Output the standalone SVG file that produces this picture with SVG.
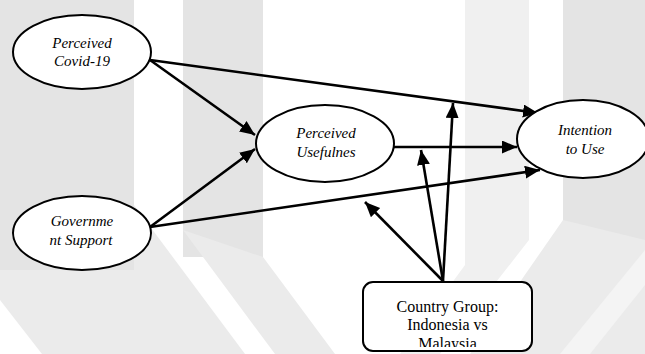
<svg xmlns="http://www.w3.org/2000/svg" width="645" height="354" viewBox="0 0 645 354">
  <style>
    .node { fill: #ffffff; stroke: #000000; stroke-width: 2; }
    .lbl { font-style: italic; font-size: 15px; fill: #000000; text-anchor: middle; }
    .box-lbl { font-size: 16px; fill: #000000; text-anchor: middle; }
    .edge { fill: none; stroke: #000000; stroke-width: 2.6; marker-end: url(#arrow); }
    .wm { fill: #e4e4e4; }
    .wm-soft { fill: #ebebeb; }
    .wm-light { fill: #f0f0f0; }
  </style>
  <defs>
    <marker id="arrow" markerUnits="userSpaceOnUse" markerWidth="16" markerHeight="14" refX="15" refY="6.5" orient="auto">
      <path d="M0,0 L15,6.5 L0,13 z" fill="#000000"/>
    </marker>
    <clipPath id="boxText">
      <rect x="363" y="282" width="169" height="65"/>
    </clipPath>
  </defs>

  <!-- faint background emblem -->
  <g id="background">
    <rect x="0" y="0" width="645" height="354" fill="#ffffff"/>
    <rect class="wm" x="0" y="0" width="134" height="270"/>
    <polygon class="wm-soft" points="0,270 134,270 134,205 245,354 42,354 0,300"/>
    <rect class="wm" x="183" y="0" width="80" height="257"/>
    <polygon class="wm-soft" points="183,230 263,257 335,354 275,354"/>
    <rect class="wm-light" x="465" y="0" width="64" height="240"/>
    <polygon class="wm-light" points="465,240 529,240 440,354 400,354 465,265"/>
    <rect class="wm" x="563" y="0" width="82" height="240"/>
    <polygon class="wm-soft" points="563,220 645,240 645,354 470,354"/>
    <polygon fill="#f4f4f4" points="645,250 645,285 590,354 560,354"/>
  </g>

  <g id="connectors">
    <line class="edge" x1="150" y1="60" x2="255" y2="135"/>
    <line class="edge" x1="150" y1="227" x2="255" y2="149"/>
    <line class="edge" x1="150" y1="60" x2="538" y2="113"/>
    <line class="edge" x1="394" y1="147" x2="517" y2="147"/>
    <line class="edge" x1="150" y1="227" x2="540" y2="170"/>
    <line class="edge" x1="443" y1="281" x2="365" y2="202"/>
    <line class="edge" x1="443" y1="281" x2="421" y2="150"/>
    <line class="edge" x1="443" y1="281" x2="453" y2="103"/>
  </g>

  <g id="perceived-covid" font-family="Liberation Serif, Times New Roman, serif">
    <ellipse class="node" cx="82" cy="52" rx="69" ry="37"/>
    <text class="lbl" x="82" y="48">Perceived</text>
    <text class="lbl" x="82" y="66">Covid-19</text>
  </g>

  <g id="government-support" font-family="Liberation Serif, Times New Roman, serif">
    <ellipse class="node" cx="82" cy="233" rx="69" ry="37"/>
    <text class="lbl" x="82" y="226">Governme</text>
    <text class="lbl" x="81" y="245">nt Support</text>
  </g>

  <g id="perceived-usefulness" font-family="Liberation Serif, Times New Roman, serif">
    <ellipse class="node" cx="325" cy="143.5" rx="69" ry="38.5"/>
    <text class="lbl" x="326" y="138">Perceived</text>
    <text class="lbl" x="326" y="157">Usefulnes</text>
  </g>

  <g id="intention-to-use" font-family="Liberation Serif, Times New Roman, serif">
    <ellipse class="node" cx="583" cy="139" rx="66" ry="39"/>
    <text class="lbl" x="585" y="135">Intention</text>
    <text class="lbl" x="585" y="154">to Use</text>
  </g>

  <g id="country-group" font-family="Liberation Serif, Times New Roman, serif">
    <rect class="node" x="363" y="282" width="169" height="69" rx="10" ry="10"/>
    <g clip-path="url(#boxText)">
      <text class="box-lbl" x="447.5" y="311.5">Country Group:</text>
      <text class="box-lbl" x="447.5" y="329.5">Indonesia vs</text>
      <text class="box-lbl" x="447.5" y="348.5">Malaysia</text>
    </g>
  </g>
</svg>
